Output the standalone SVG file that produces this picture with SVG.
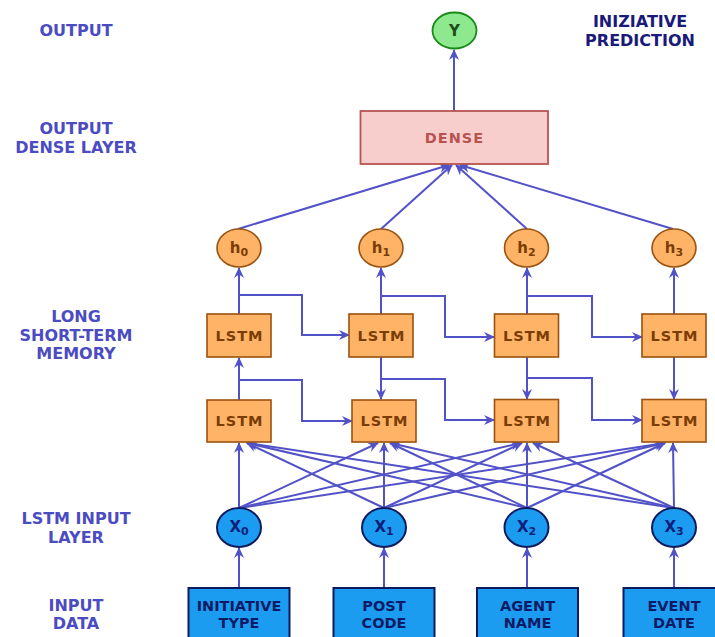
<svg xmlns="http://www.w3.org/2000/svg" width="715" height="637" viewBox="0 0 715 637">
<defs>
<marker id="arr" markerWidth="12" markerHeight="12" refX="10" refY="6" orient="auto" markerUnits="userSpaceOnUse">
<path d="M0,1 L11,6 L0,11 L3.5,6 z" fill="#5252c8"/>
</marker>
<style>
.lbl{font-family:"DejaVu Sans",Verdana,sans-serif;font-weight:bold;font-size:16px;fill:#4b4bc2;text-anchor:middle}
.lbl2{font-family:"DejaVu Sans",Verdana,sans-serif;font-weight:bold;font-size:16px;fill:#1a1a7a;text-anchor:middle}
.ca{fill:none;stroke:#5252c8;stroke-width:2;marker-end:url(#arr)}
.lstm rect{fill:#ffb366;stroke:#99520f;stroke-width:1.6}
.lstm text{font-family:"DejaVu Sans",Verdana,sans-serif;font-weight:bold;font-size:14.5px;fill:#7a3d05;text-anchor:middle;letter-spacing:1px}
.h text{font-family:"DejaVu Sans",Verdana,sans-serif;font-weight:bold;font-size:15px;fill:#7a3d05;text-anchor:middle}
.h ellipse{fill:#ffb366;stroke:#99520f;stroke-width:1.6}
.x ellipse{fill:#1b9cf0;stroke:#0d1a5e;stroke-width:2}
.x text{font-family:"DejaVu Sans",Verdana,sans-serif;font-weight:bold;font-size:15px;fill:#10207a;text-anchor:middle}
.inp rect{fill:#1b9cf0;stroke:#0d1a5e;stroke-width:2}
.inp text{font-family:"DejaVu Sans",Verdana,sans-serif;font-weight:bold;font-size:14.5px;fill:#0d1a66;text-anchor:middle}
.sub{font-size:11px}
</style>
</defs>
<rect width="715" height="637" fill="#ffffff"/>

<!-- side labels -->
<g id="labels">
<text class="lbl" x="76" y="36">OUTPUT</text>
<text class="lbl" x="76" y="134">OUTPUT</text>
<text class="lbl" x="76" y="153">DENSE LAYER</text>
<text class="lbl" x="76" y="322">LONG</text>
<text class="lbl" x="76" y="341">SHORT-TERM</text>
<text class="lbl" x="76" y="359">MEMORY</text>
<text class="lbl" x="76" y="524">LSTM INPUT</text>
<text class="lbl" x="76" y="543">LAYER</text>
<text class="lbl" x="76" y="611">INPUT</text>
<text class="lbl" x="76" y="629">DATA</text>
<text class="lbl2" x="640" y="27">INIZIATIVE</text>
<text class="lbl2" x="640" y="46">PREDICTION</text>
</g>

<!-- connectors -->
<g id="connectors">
<line class="ca" x1="454" y1="111" x2="454" y2="50"/>
<line class="ca" x1="238" y1="229" x2="449" y2="165"/>
<line class="ca" x1="381" y1="229" x2="452" y2="165"/>
<line class="ca" x1="527" y1="229" x2="456" y2="165"/>
<line class="ca" x1="673" y1="229" x2="460" y2="165"/>

<line class="ca" x1="239" y1="314" x2="239" y2="268"/>
<line class="ca" x1="381" y1="314" x2="381" y2="268"/>
<line class="ca" x1="527" y1="314" x2="527" y2="268"/>
<line class="ca" x1="674" y1="314" x2="674" y2="268"/>

<polyline class="ca" points="239,295 302,295 302,335 349,335"/>
<polyline class="ca" points="381,296 445,296 445,337 494,337"/>
<polyline class="ca" points="527,296 592,296 592,337 642,337"/>

<line class="ca" x1="239" y1="400" x2="239" y2="358"/>
<line class="ca" x1="381" y1="357" x2="381" y2="399"/>
<line class="ca" x1="527" y1="357" x2="527" y2="399"/>
<line class="ca" x1="674" y1="357" x2="674" y2="399"/>

<polyline class="ca" points="239,380 302,380 302,421 352,421"/>
<polyline class="ca" points="381,379 445,379 445,420 494,420"/>
<polyline class="ca" points="527,378 592,378 592,420 642,420"/>

<!-- input layer to bottom LSTMs -->
<line class="ca" x1="239" y1="508" x2="239" y2="443"/>
<line class="ca" x1="239" y1="508" x2="378" y2="443"/>
<line class="ca" x1="239" y1="508" x2="521" y2="443"/>
<line class="ca" x1="239" y1="508" x2="665" y2="443"/>

<line class="ca" x1="384" y1="508" x2="247" y2="443"/>
<line class="ca" x1="384" y1="508" x2="384" y2="443"/>
<line class="ca" x1="384" y1="508" x2="522" y2="443"/>
<line class="ca" x1="384" y1="508" x2="665" y2="443"/>

<line class="ca" x1="527" y1="508" x2="247" y2="443"/>
<line class="ca" x1="527" y1="508" x2="390" y2="443"/>
<line class="ca" x1="527" y1="508" x2="527" y2="443"/>
<line class="ca" x1="527" y1="508" x2="665" y2="443"/>

<line class="ca" x1="674" y1="508" x2="247" y2="443"/>
<line class="ca" x1="674" y1="508" x2="390" y2="443"/>
<line class="ca" x1="674" y1="508" x2="533" y2="443"/>
<line class="ca" x1="674" y1="508" x2="673" y2="443"/>

<line class="ca" x1="239" y1="588" x2="239" y2="548"/>
<line class="ca" x1="384" y1="588" x2="384" y2="548"/>
<line class="ca" x1="527" y1="588" x2="527" y2="548"/>
<line class="ca" x1="674" y1="588" x2="674" y2="548"/>
</g>

<!-- output -->
<g id="y">
<ellipse cx="454.5" cy="30.5" rx="22" ry="18" fill="#8ee88e" stroke="#1a8a1a" stroke-width="1.8"/>
<text x="454.5" y="36" font-family="DejaVu Sans,Verdana,sans-serif" font-weight="bold" font-size="15" fill="#1a4d1a" text-anchor="middle">Y</text>
</g>
<g id="dense">
<rect x="360.5" y="111" width="187.5" height="53" fill="#f8cecc" stroke="#b85450" stroke-width="1.8"/>
<text x="454.5" y="143" font-family="DejaVu Sans,Verdana,sans-serif" font-weight="bold" font-size="14.5" letter-spacing="1" fill="#b85450" text-anchor="middle">DENSE</text>
</g>

<!-- hidden states -->
<g id="h0" class="h"><ellipse cx="239" cy="248" rx="22" ry="19"/><text x="239" y="253">h<tspan class="sub" dy="3">0</tspan></text></g>
<g id="h1" class="h"><ellipse cx="381" cy="248" rx="22" ry="19"/><text x="381" y="253">h<tspan class="sub" dy="3">1</tspan></text></g>
<g id="h2" class="h"><ellipse cx="526.5" cy="248" rx="22" ry="19"/><text x="526.5" y="253">h<tspan class="sub" dy="3">2</tspan></text></g>
<g id="h3" class="h"><ellipse cx="674" cy="248" rx="22" ry="19"/><text x="674" y="253">h<tspan class="sub" dy="3">3</tspan></text></g>

<!-- top LSTMs -->
<g id="lstm_t0" class="lstm"><rect x="207" y="314" width="64" height="43"/><text x="239.5" y="341">LSTM</text></g>
<g id="lstm_t1" class="lstm"><rect x="349" y="314" width="64" height="43"/><text x="381.5" y="341">LSTM</text></g>
<g id="lstm_t2" class="lstm"><rect x="494.5" y="314" width="64" height="43"/><text x="527" y="341">LSTM</text></g>
<g id="lstm_t3" class="lstm"><rect x="642" y="314" width="64" height="43"/><text x="674.5" y="341">LSTM</text></g>

<!-- bottom LSTMs -->
<g id="lstm_b0" class="lstm"><rect x="207" y="400" width="64" height="42"/><text x="239.5" y="426">LSTM</text></g>
<g id="lstm_b1" class="lstm"><rect x="352" y="400" width="64" height="42"/><text x="384.5" y="426">LSTM</text></g>
<g id="lstm_b2" class="lstm"><rect x="494.5" y="399.5" width="64" height="42.5"/><text x="527" y="426">LSTM</text></g>
<g id="lstm_b3" class="lstm"><rect x="642" y="399.5" width="64" height="42.5"/><text x="674.5" y="426">LSTM</text></g>

<!-- input layer -->
<g id="x0" class="x"><ellipse cx="239" cy="527.5" rx="22" ry="19.5"/><text x="239" y="532">X<tspan class="sub" dy="3">0</tspan></text></g>
<g id="x1" class="x"><ellipse cx="384" cy="527.5" rx="22" ry="19.5"/><text x="384" y="532">X<tspan class="sub" dy="3">1</tspan></text></g>
<g id="x2" class="x"><ellipse cx="526.5" cy="527.5" rx="22" ry="19.5"/><text x="526.5" y="532">X<tspan class="sub" dy="3">2</tspan></text></g>
<g id="x3" class="x"><ellipse cx="674" cy="527.5" rx="22" ry="19.5"/><text x="674" y="532">X<tspan class="sub" dy="3">3</tspan></text></g>

<!-- input data -->
<g id="in0" class="inp"><rect x="188.5" y="588" width="101" height="50"/><text x="239" y="611">INITIATIVE</text><text x="239" y="628">TYPE</text></g>
<g id="in1" class="inp"><rect x="333.5" y="588" width="101" height="50"/><text x="384" y="611">POST</text><text x="384" y="628">CODE</text></g>
<g id="in2" class="inp"><rect x="477" y="588" width="101" height="50"/><text x="527.5" y="611">AGENT</text><text x="527.5" y="628">NAME</text></g>
<g id="in3" class="inp"><rect x="623.5" y="588" width="101" height="50"/><text x="674" y="611">EVENT</text><text x="674" y="628">DATE</text></g>
</svg>
